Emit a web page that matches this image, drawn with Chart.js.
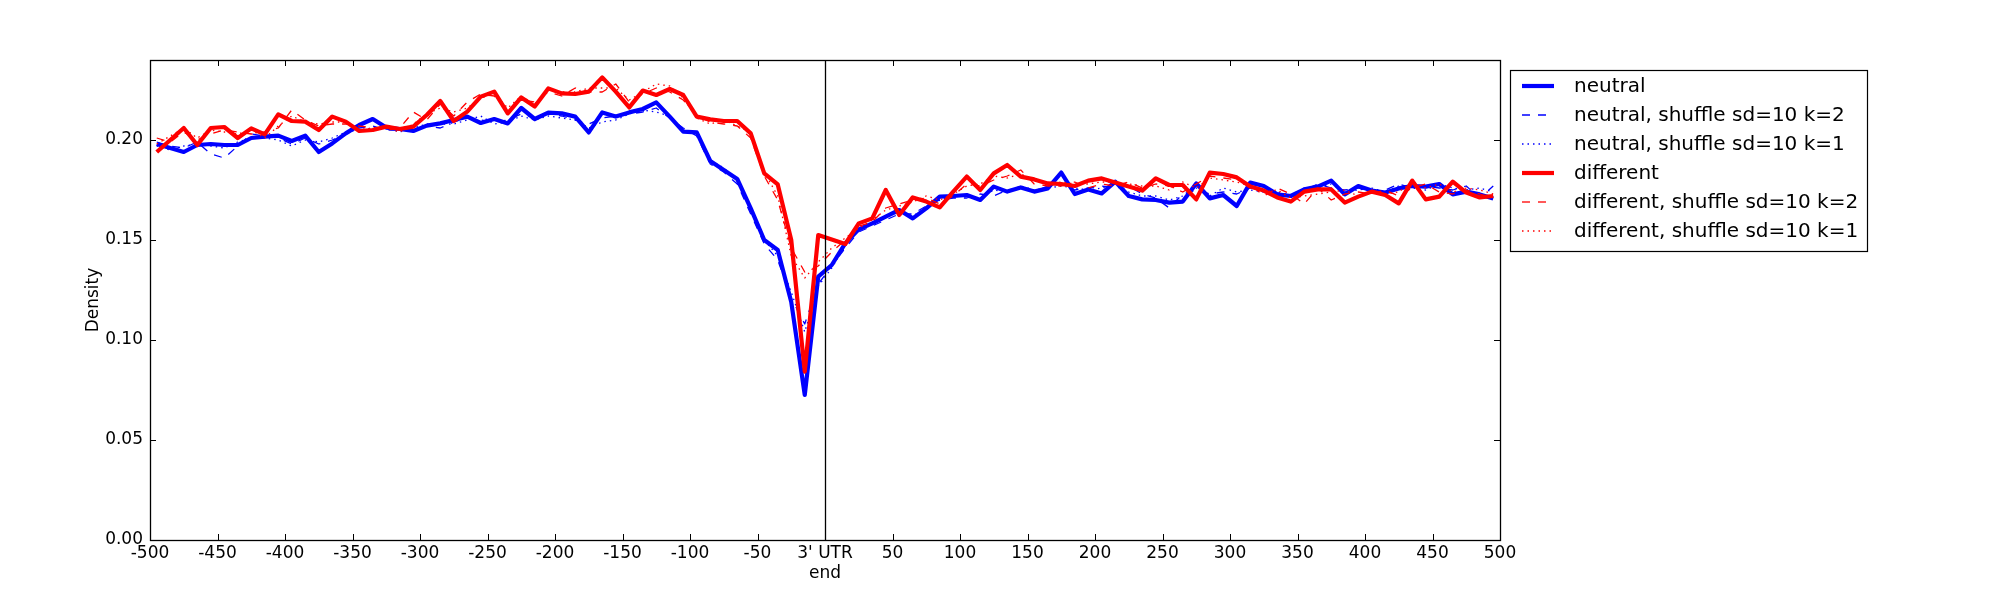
<!DOCTYPE html>
<html>
<head>
<meta charset="utf-8">
<script src="https://cdn.jsdelivr.net/npm/chart.js@4/dist/chart.umd.min.js"></script>
<style>
html,body{margin:0;padding:0;background:#fff;}
#wrap{width:2000px;height:600px;}
</style>
</head>
<body>
<div id="wrap"><canvas id="c" width="2000" height="600"></canvas></div>
<script>
// ---- data ----
const positions = [-495,-485,-475,-465,-455,-445,-435,-425,-415,-405,-395,-385,-375,-365,-355,-345,-335,-325,-315,-305,-295,-285,-275,-265,-255,
-245,-235,-225,-215,-205,-195,-185,-175,-165,-155,-145,-135,-125,-115,-105,-95,-85,-75,-65,-55,-45,-35,-25,-15,-5,
5,15,25,35,45,55,65,75,85,95,105,115,125,135,145,155,165,175,185,195,205,215,225,235,245,
255,265,275,285,295,305,315,325,335,345,355,365,375,385,395,405,415,425,435,445,455,465,475,485,495];

const neutral = [0.198,0.196,0.194,0.1975,0.198,0.1975,0.1975,0.201,0.2017,0.2022,0.1995,0.2022,0.194,0.1983,0.2033,0.2075,0.2105,0.2062,0.2055,0.2045,0.2072,0.2083,0.210,0.2117,0.2085,
0.2105,0.2083,0.216,0.2105,0.2137,0.2133,0.2117,0.2038,0.2138,0.2117,0.2138,0.2155,0.2188,0.2117,0.2042,0.2038,0.1895,0.185,0.1805,0.1658,0.150,0.145,0.119,0.0725,0.1317,
0.1375,0.1483,0.1553,0.1583,0.1617,0.165,0.1608,0.1658,0.1717,0.172,0.1725,0.170,0.1767,0.1742,0.1763,0.1742,0.1758,0.1837,0.173,0.1753,0.1733,0.1792,0.172,0.1703,0.170,
0.1687,0.1692,0.1783,0.1708,0.1725,0.167,0.1787,0.177,0.1728,0.172,0.1753,0.1767,0.1797,0.1728,0.177,0.1747,0.1737,0.1758,0.177,0.1767,0.178,0.1728,0.1742,0.1728,0.1708];

const neutralK2 = [0.199,0.197,0.196,0.199,0.193,0.191,0.197,0.203,0.202,0.201,0.198,0.201,0.198,0.200,0.203,0.206,0.207,0.205,0.205,0.205,0.207,0.206,0.209,0.211,0.210,
0.209,0.210,0.213,0.211,0.213,0.212,0.210,0.208,0.211,0.212,0.213,0.214,0.216,0.211,0.206,0.202,0.188,0.184,0.178,0.163,0.148,0.140,0.121,0.108,0.128,
0.137,0.146,0.154,0.157,0.160,0.163,0.163,0.167,0.170,0.171,0.171,0.173,0.172,0.175,0.176,0.174,0.177,0.178,0.175,0.176,0.177,0.176,0.177,0.173,0.171,
0.166,0.173,0.175,0.173,0.174,0.173,0.176,0.175,0.173,0.173,0.175,0.178,0.176,0.175,0.176,0.174,0.175,0.178,0.176,0.177,0.176,0.175,0.177,0.171,0.177];

const neutralK1 = [0.197,0.195,0.197,0.198,0.197,0.196,0.199,0.201,0.201,0.200,0.197,0.200,0.199,0.201,0.204,0.205,0.206,0.206,0.204,0.206,0.208,0.208,0.208,0.210,0.212,
0.208,0.209,0.212,0.210,0.212,0.211,0.210,0.206,0.209,0.210,0.213,0.215,0.214,0.212,0.205,0.203,0.190,0.186,0.180,0.166,0.150,0.142,0.124,0.104,0.127,
0.136,0.147,0.156,0.158,0.162,0.164,0.162,0.166,0.170,0.172,0.172,0.171,0.175,0.174,0.177,0.175,0.176,0.177,0.176,0.175,0.176,0.178,0.174,0.172,0.172,
0.170,0.172,0.176,0.172,0.176,0.174,0.175,0.174,0.174,0.172,0.176,0.176,0.178,0.174,0.175,0.176,0.174,0.177,0.176,0.175,0.178,0.176,0.175,0.176,0.174];

const different = [0.194,0.200,0.206,0.1975,0.206,0.2065,0.201,0.2058,0.2028,0.2128,0.2095,0.2092,0.205,0.2117,0.2092,0.2045,0.205,0.2067,0.2055,0.2067,0.2125,0.2195,0.2095,0.2142,0.2217,
0.2242,0.2133,0.2213,0.2167,0.2258,0.2233,0.223,0.2242,0.2313,0.2242,0.2163,0.2247,0.2225,0.2255,0.2225,0.2117,0.2103,0.2095,0.2095,0.2033,0.1833,0.1778,0.150,0.0842,0.1525,
0.1503,0.148,0.1583,0.1608,0.175,0.1625,0.1713,0.1692,0.1663,0.1742,0.1817,0.175,0.1833,0.1875,0.1817,0.1803,0.1783,0.178,0.177,0.1797,0.1808,0.1787,0.1767,0.1747,0.1808,
0.1775,0.1775,0.1703,0.1837,0.183,0.1813,0.1767,0.1747,0.1713,0.1692,0.1742,0.1753,0.1753,0.1687,0.1717,0.1742,0.1725,0.1683,0.1797,0.1703,0.1717,0.1792,0.1737,0.1713,0.172];

const differentK2 = [0.201,0.199,0.204,0.200,0.203,0.205,0.204,0.203,0.204,0.206,0.215,0.210,0.207,0.208,0.208,0.207,0.206,0.205,0.206,0.214,0.210,0.218,0.212,0.219,0.223,
0.222,0.215,0.220,0.219,0.224,0.222,0.226,0.224,0.224,0.228,0.219,0.223,0.226,0.224,0.220,0.212,0.209,0.208,0.207,0.201,0.182,0.170,0.146,0.134,0.137,
0.144,0.150,0.157,0.159,0.166,0.168,0.170,0.171,0.168,0.172,0.178,0.177,0.180,0.182,0.185,0.178,0.177,0.177,0.179,0.176,0.178,0.177,0.179,0.176,0.178,
0.177,0.174,0.178,0.182,0.181,0.180,0.178,0.172,0.176,0.173,0.168,0.176,0.170,0.173,0.174,0.173,0.175,0.172,0.176,0.178,0.174,0.173,0.175,0.173,0.171];

const differentK1 = [0.198,0.202,0.206,0.201,0.205,0.204,0.203,0.205,0.201,0.207,0.212,0.209,0.208,0.209,0.209,0.205,0.206,0.206,0.204,0.208,0.213,0.216,0.214,0.216,0.221,
0.223,0.216,0.222,0.218,0.225,0.224,0.224,0.226,0.226,0.226,0.220,0.224,0.228,0.227,0.221,0.211,0.208,0.210,0.207,0.204,0.184,0.172,0.142,0.131,0.139,
0.146,0.151,0.156,0.160,0.165,0.167,0.169,0.172,0.170,0.173,0.177,0.178,0.182,0.181,0.183,0.180,0.178,0.179,0.178,0.178,0.179,0.179,0.178,0.177,0.177,
0.175,0.179,0.176,0.181,0.180,0.179,0.177,0.174,0.175,0.171,0.172,0.173,0.174,0.175,0.172,0.174,0.173,0.174,0.179,0.176,0.178,0.174,0.176,0.175,0.173];

const seriesNames = ['neutral','neutral, shuffle sd=10 k=2','neutral, shuffle sd=10 k=1','different','different, shuffle sd=10 k=2','different, shuffle sd=10 k=1'];
const xTickValues = [-500,-450,-400,-350,-300,-250,-200,-150,-100,-50,0,50,100,150,200,250,300,350,400,450,500];
const xTickLabels = ['-500','-450','-400','-350','-300','-250','-200','-150','-100','-50',"3' UTR\nend",'50','100','150','200','250','300','350','400','450','500'];
const yTickValues = [0,0.05,0.10,0.15,0.20];
const yTickLabels = ['0.00','0.05','0.10','0.15','0.20'];

// ---- chart ----
const FONT = "'DejaVu Sans', 'Liberation Sans', sans-serif";
const toPts = arr => arr.map((v,i)=>({x:positions[i], y:v}));
const styles = [
  {c:'#0000ff', w:4.2, d:[]},
  {c:'#0000ff', w:1.3, d:[8,8]},
  {c:'#0000ff', w:1.3, d:[1.5,4]},
  {c:'#ff0000', w:4.2, d:[]},
  {c:'#ff0000', w:1.3, d:[8,8]},
  {c:'#ff0000', w:1.3, d:[1.5,4]}
];
const seriesData = [neutral, neutralK2, neutralK1, different, differentK2, differentK1];
const datasets = seriesData.map((arr,i)=>({
  label: seriesNames[i],
  data: toPts(arr),
  borderColor: styles[i].c,
  backgroundColor: styles[i].c,
  borderWidth: styles[i].w,
  borderDash: styles[i].d,
  pointRadius: 0,
  tension: 0,
  fill: false,
  borderJoinStyle: 'round',
  order: 6 - i
}));

const framePlugin = {
  id: 'frame',
  afterDatasetsDraw(chart) {
    const {ctx, chartArea: a, scales: {x, y}} = chart;
    ctx.save();
    ctx.strokeStyle = '#000';
    ctx.setLineDash([]);
    // vertical line at 3' UTR end
    const x0 = Math.round(x.getPixelForValue(0)) + 0.5;
    ctx.lineWidth = 1.3;
    ctx.beginPath(); ctx.moveTo(x0, a.top); ctx.lineTo(x0, a.bottom); ctx.stroke();
    // frame
    ctx.lineWidth = 1.3;
    ctx.strokeRect(Math.round(a.left)+0.5, Math.round(a.top)+0.5, Math.round(a.right-a.left), Math.round(a.bottom-a.top));
    // inward ticks
    ctx.lineWidth = 1;
    const L = 6;
    xTickValues.forEach(v => {
      const p = Math.round(x.getPixelForValue(v)) + 0.5;
      ctx.beginPath();
      ctx.moveTo(p, a.bottom); ctx.lineTo(p, a.bottom - L);
      ctx.moveTo(p, a.top); ctx.lineTo(p, a.top + L);
      ctx.stroke();
    });
    yTickValues.forEach(v => {
      const p = Math.round(y.getPixelForValue(v)) + 0.5;
      ctx.beginPath();
      ctx.moveTo(a.left, p); ctx.lineTo(a.left + L, p);
      ctx.moveTo(a.right, p); ctx.lineTo(a.right - L, p);
      ctx.stroke();
    });
    // legend
    const bx = 1510.5, by = 70.5, bw = 357, bh = 181;
    ctx.fillStyle = '#fff';
    ctx.fillRect(bx, by, bw, bh);
    ctx.strokeStyle = '#000';
    ctx.lineWidth = 1.2;
    ctx.strokeRect(bx, by, bw, bh);
    ctx.font = '20px ' + FONT;
    ctx.textBaseline = 'middle';
    ctx.textAlign = 'left';
    chart.data.datasets.forEach((ds, i) => {
      const ry = 86 + i * 29;
      ctx.strokeStyle = ds.borderColor;
      ctx.lineWidth = ds.borderWidth;
      ctx.setLineDash(ds.borderDash || []);
      ctx.beginPath(); ctx.moveTo(1522, ry); ctx.lineTo(1554, ry); ctx.stroke();
      ctx.setLineDash([]);
      ctx.fillStyle = '#000';
      ctx.fillText(ds.label, 1574, ry + 1);
    });
    ctx.restore();
  }
};

new Chart(document.getElementById('c'), {
  type: 'line',
  data: { datasets },
  options: {
    responsive: false,
    devicePixelRatio: 1,
    animation: false,
    events: [],
    layout: { padding: { left: 83, right: 500, top: 60, bottom: 0 } },
    plugins: { legend: { display: false }, tooltip: { enabled: false } },
    scales: {
      x: {
        type: 'linear', min: -500, max: 500,
        grid: { display: false, drawTicks: false },
        border: { display: false },
        afterFit: s => { s.height = 60; },
        afterBuildTicks: s => { s.ticks = xTickValues.map(v => ({ value: v })); },
        ticks: {
          autoSkip: false, maxRotation: 0, minRotation: 0, padding: 3,
          color: '#000',
          font: { family: FONT, size: 17, lineHeight: 1.2 },
          callback: v => { const i = xTickValues.indexOf(v); const s = i >= 0 ? xTickLabels[i] : ''; return s.includes('\n') ? s.split('\n') : s; }
        }
      },
      y: {
        type: 'linear', min: 0, max: 0.24,
        grid: { display: false, drawTicks: false },
        border: { display: false },
        afterFit: s => { s.width = 67; },
        afterBuildTicks: s => { s.ticks = yTickValues.map(v => ({ value: v })); },
        ticks: {
          padding: 7, color: '#000',
          font: { family: FONT, size: 17 },
          callback: v => { const i = yTickValues.findIndex(t => Math.abs(t - v) < 1e-9); return i >= 0 ? yTickLabels[i] : ''; }
        },
        title: { display: true, text: 'Density', color: '#000', padding: 0, font: { family: FONT, size: 17 } }
      }
    }
  },
  plugins: [framePlugin]
});
</script>
</body>
</html>
